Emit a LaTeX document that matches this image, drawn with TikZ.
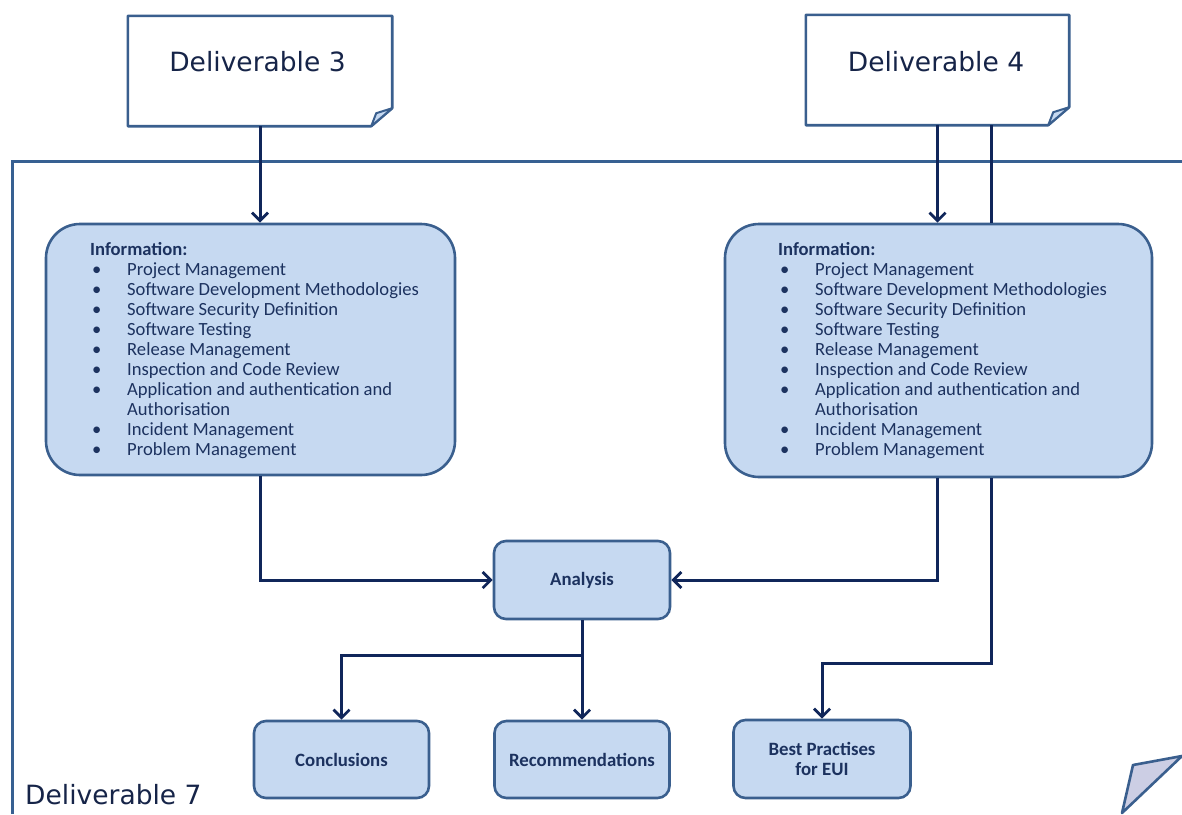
\documentclass[tikz,border=0pt]{standalone}
\usepackage{fontspec}
\setmainfont{Carlito}
\newfontfamily\delfont{DejaVu Sans}
\usetikzlibrary{arrows.meta,calc}
\definecolor{boxfill}{RGB}{198,217,241}
\definecolor{boxline}{RGB}{58,95,142}
\definecolor{arrowc}{RGB}{16,38,90}
\definecolor{txt}{RGB}{28,50,95}
\definecolor{deltxt}{RGB}{22,36,72}
\definecolor{framec}{RGB}{55,96,146}
\definecolor{foldc}{RGB}{204,206,228}
\newcommand\bitem[1]{\makebox[37pt][l]{\hspace{2pt}\textbullet}#1\\}
\newcommand\infoitems{%
\parbox[t]{400pt}{\fontsize{18.6}{20}\selectfont
\textbf{Information:}\\
\bitem{Project Management}
\bitem{Software Development Methodologies}
\bitem{Software Security Definition}
\bitem{Software Testing}
\bitem{Release Management}
\bitem{Inspection and Code Review}
\bitem{Application and authentication and}
\hspace*{37pt}Authorisation\\
\bitem{Incident Management}
\makebox[37pt][l]{\hspace{2pt}\textbullet}Problem Management}}
\begin{document}
\begin{tikzpicture}[x=1pt,y=-1pt,
  infobox/.style={draw=boxline, line width=2.6pt, fill=boxfill, rounded corners=34pt, inner sep=0pt},
  stepbox/.style={draw=boxline, line width=2.6pt, fill=boxfill, rounded corners=12pt, inner sep=0pt,
    text=txt, font=\bfseries\fontsize{18.8}{20}\selectfont, align=center},
  delbox/.style={draw=none, inner sep=0pt},
  deltext/.style={inner sep=0pt, text=deltxt, font=\delfont\fontsize{26.5}{30}\selectfont},
  infotext/.style={inner sep=0pt, anchor=base west, text=txt},
  conn/.style={draw=arrowc, line width=3pt},
  arr/.style={draw=arrowc, line width=3pt, -{Straight Barb[length=8pt,width=16pt,line width=2.8pt]}},
  fold/.style={draw=boxline, line width=2.6pt, line join=round}
]
\useasboundingbox (0,0) rectangle (1182,814);
\clip (0,0) rectangle (1182,814);
\fill[white] (0,0) rectangle (1182,814);

% outer frame of Deliverable 7
\draw[framec, line width=3pt] (12,814) -- (12,161) -- (1182,161);
\draw[fold, fill=foldc] (1122,813) -- (1133,765) -- (1182,756) -- cycle;
\node[deltext, anchor=base west] (d7t) at (25,804) {Deliverable 7};

% deliverable documents
\node[delbox, minimum width=264pt, minimum height=110pt] (d3) at (260,71) {};
\node[delbox, minimum width=263pt, minimum height=110pt] (d4) at (937.5,70) {};
\foreach \d in {d3,d4}{
  \draw[fold, fill=white] (\d.north west) -- (\d.north east) -- ([yshift=18pt]\d.south east)
     -- ([xshift=-21pt]\d.south east) -- (\d.south west) -- cycle;
  \draw[fold, line width=2pt, fill=boxfill] ([xshift=-21pt]\d.south east) -- ([xshift=-16pt,yshift=13pt]\d.south east)
     -- ([yshift=18pt]\d.south east) -- cycle;
}
\node[deltext] (d3t) at (257.5,62) {Deliverable 3};
\node[deltext] (d4t) at (936,62) {Deliverable 4};

% information boxes
\node[infobox, minimum width=409pt, minimum height=251pt] (info3) at (250.5,349.5) {};
\node[infobox, minimum width=427pt, minimum height=253pt] (info4) at (938.5,350.5) {};
\node[infotext] (info3t) at (90,255) {\infoitems};
\node[infotext] (info4t) at (778,255) {\infoitems};

% process boxes
\node[stepbox, minimum width=176pt, minimum height=78pt] (analysis) at (582,580) {Analysis};
\node[stepbox, minimum width=175pt, minimum height=77pt] (concl) at (341.5,759.5) {Conclusions};
\node[stepbox, minimum width=175pt, minimum height=77pt] (recom) at (582,759.5) {Recommendations};
\node[stepbox, minimum width=177pt, minimum height=78pt] (best) at (822,759) {Best Practises\\for EUI};

% connectors
\coordinate (d4b) at (991,0);
\coordinate (bj) at (991,663);
\coordinate (br) at (582,655);
\draw[arr] (d3.south) -- (d3.south |- info3.north);
\draw[arr] (d4.south) -- (d4.south |- info4.north);
\draw[conn] (d4.south -| d4b) -- (info4.north -| d4b);
\draw[arr] (info3.south -| d3.south) |- (analysis.west);
\draw[arr] (info4.south -| d4.south) |- (analysis.east);
\draw[arr] (info4.south -| bj) -- (bj) -| (best.north);
\draw[arr] (analysis.south) -- (recom.north);
\draw[arr] (br) -| (concl.north);
\end{tikzpicture}
\end{document}
